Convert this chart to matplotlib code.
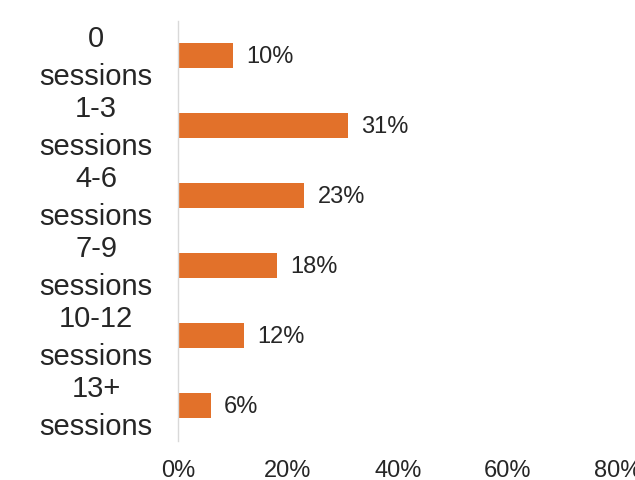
import matplotlib.pyplot as plt
import matplotlib.transforms as mtransforms
from matplotlib.ticker import FuncFormatter

plt.rcParams["font.family"] = ["Liberation Sans", "DejaVu Sans"]

# --- data --------------------------------------------------------------------
categories = ["0\nsessions", "1-3\nsessions", "4-6\nsessions",
              "7-9\nsessions", "10-12\nsessions", "13+\nsessions"]
shares = [10, 31, 23, 18, 12, 6]
x_ticks = [0, 20, 40, 60, 80]

BAR_COLOR = "#E2712A"
TEXT_COLOR = "#262626"
FS_CAT = 21
FS = 17

# --- plot --------------------------------------------------------------------
fig = plt.figure(figsize=(6.35, 4.81), dpi=100)
ax = fig.add_axes([0.2803, 0.0821, 0.6929, 0.8732])

pos = list(range(len(categories)))
bars = ax.barh(pos, shares, height=0.36, color=BAR_COLOR)

for b, v in zip(bars, shares):
    ax.annotate(f"{v}%", (b.get_width(), b.get_y() + b.get_height() / 2),
                xytext=(13, 0), textcoords="offset pixels",
                va="center", ha="left", fontsize=FS, color=TEXT_COLOR)

ax.set_xlim(0, 80)
ax.set_ylim(len(categories) - 0.5, -0.5)
ax.set_xticks(x_ticks)
ax.xaxis.set_major_formatter(FuncFormatter(lambda v, _: f"{v:.0f}%"))
ax.set_yticks(pos)
ax.set_yticklabels(categories, ha="center", fontsize=FS_CAT, color=TEXT_COLOR)

ax.tick_params(axis="x", length=0, pad=13, labelsize=FS, labelcolor=TEXT_COLOR)
ax.tick_params(axis="y", length=0, pad=59)

# two-line category labels: wider line gap, nudged up to sit centred on the bar
# (after tick_params, which resets the label transforms)
lift = mtransforms.ScaledTranslation(0, 0.065, fig.dpi_scale_trans)
for lbl in ax.get_yticklabels():
    lbl.set_linespacing(1.45)
    lbl.set_transform(lbl.get_transform() + lift)

for side in ["top", "right", "bottom"]:
    ax.spines[side].set_visible(False)
ax.spines["left"].set_color("#d9d9d9")
ax.spines["left"].set_linewidth(1.0)

plt.savefig("out.png", dpi=100)
